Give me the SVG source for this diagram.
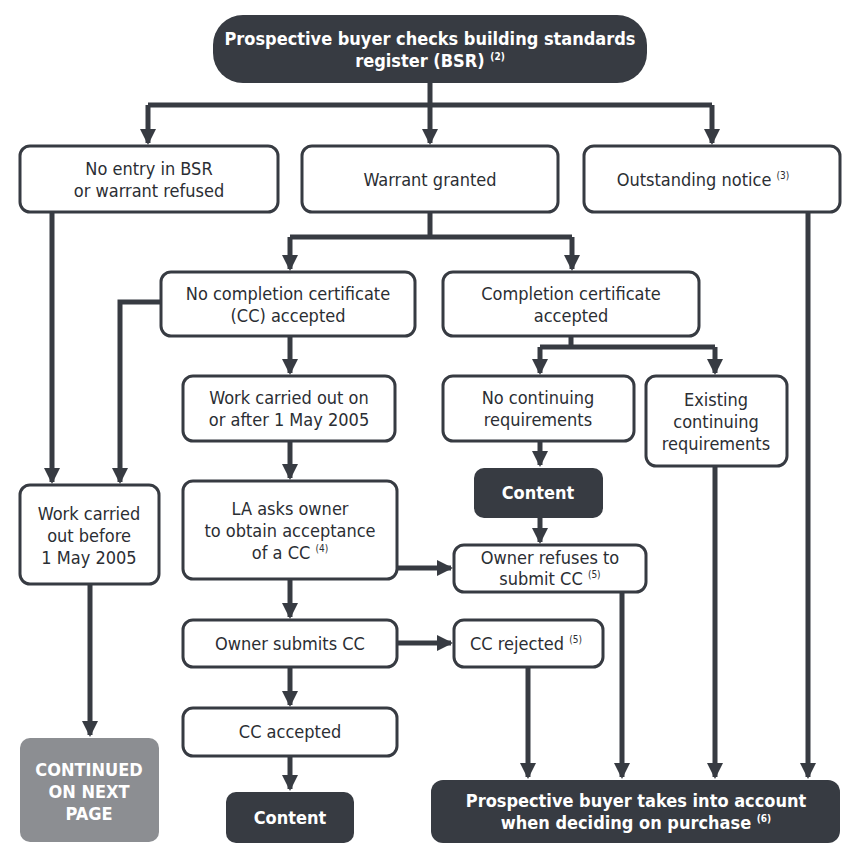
<svg xmlns="http://www.w3.org/2000/svg" width="862" height="858" viewBox="0 0 862 858">
<style>
.b{fill:#fff;stroke:#373b42;stroke-width:3}
.d{fill:#373b42}
.g{fill:#8c8e92}
text{font-family:"DejaVu Sans Condensed","DejaVu Sans",sans-serif;font-size:18px;fill:#2b2e33;text-anchor:middle}
.w{fill:#fff;font-weight:bold}
.s{font-size:10px;font-weight:bold}
.c{fill:none;stroke:#373b42;stroke-width:5}
</style>
<defs><marker id="a" markerUnits="userSpaceOnUse" markerWidth="18" markerHeight="18" refX="14" refY="8" orient="auto"><path d="M0,0L16,8L0,16Z" fill="#373b42"/></marker></defs>
<rect width="862" height="858" fill="#fff"/>
<g id="connectors">
<path class="c" d="M430,83V105M148,105H712"/>
<path class="c" marker-end="url(#a)" d="M148,105V143"/>
<path class="c" marker-end="url(#a)" d="M430,105V143"/>
<path class="c" marker-end="url(#a)" d="M712,105V143"/>
<path class="c" d="M430,212V237M290,237H572"/>
<path class="c" marker-end="url(#a)" d="M290,237V269"/>
<path class="c" marker-end="url(#a)" d="M572,237V269"/>
<path class="c" d="M571,336V347M540,347H715"/>
<path class="c" marker-end="url(#a)" d="M540,347V373"/>
<path class="c" marker-end="url(#a)" d="M715,347V373"/>
<path class="c" marker-end="url(#a)" d="M52,212V482"/>
<path class="c" marker-end="url(#a)" d="M161,302H120V482"/>
<path class="c" marker-end="url(#a)" d="M290,336V373"/>
<path class="c" marker-end="url(#a)" d="M290,441V478"/>
<path class="c" marker-end="url(#a)" d="M290,579V617"/>
<path class="c" marker-end="url(#a)" d="M290,667V705"/>
<path class="c" marker-end="url(#a)" d="M290,756V789"/>
<path class="c" marker-end="url(#a)" d="M540,441V465"/>
<path class="c" marker-end="url(#a)" d="M540,518V542"/>
<path class="c" marker-end="url(#a)" d="M397,568H451"/>
<path class="c" marker-end="url(#a)" d="M397,643H451"/>
<path class="c" marker-end="url(#a)" d="M90,584V735"/>
<path class="c" marker-end="url(#a)" d="M528,667V777"/>
<path class="c" marker-end="url(#a)" d="M622,592V777"/>
<path class="c" marker-end="url(#a)" d="M715,466V777"/>
<path class="c" marker-end="url(#a)" d="M808,212V777"/>
</g>
<g id="top"><rect class="d" x="213" y="15" width="434" height="68" rx="30"/><text class="w" x="430" y="45">Prospective buyer checks building standards</text><text class="w" x="430" y="67">register (BSR) <tspan class="s" dy="-7">(2)</tspan></text></g>
<g id="noentry"><rect class="b" x="20" y="146" width="258" height="66" rx="10"/><text x="149" y="175">No entry in BSR</text><text x="149" y="197">or warrant refused</text></g>
<g id="warrant"><rect class="b" x="302" y="146" width="256" height="66" rx="10"/><text x="430" y="186">Warrant granted</text></g>
<g id="outstanding"><rect class="b" x="584" y="146" width="256" height="66" rx="10"/><text x="703" y="186">Outstanding notice <tspan style="font-size:10px" dy="-7">(3)</tspan></text></g>
<g id="nocc"><rect class="b" x="161" y="272" width="254" height="64" rx="10"/><text x="288" y="300">No completion certificate</text><text x="288" y="322">(CC) accepted</text></g>
<g id="cc"><rect class="b" x="443" y="272" width="256" height="64" rx="10"/><text x="571" y="300">Completion certificate</text><text x="571" y="322">accepted</text></g>
<g id="after"><rect class="b" x="183" y="376" width="212" height="65" rx="10"/><text x="289" y="404">Work carried out on</text><text x="289" y="426">or after 1 May 2005</text></g>
<g id="nocont"><rect class="b" x="443" y="376" width="191" height="65" rx="10"/><text x="538" y="404">No continuing</text><text x="538" y="426">requirements</text></g>
<g id="exist"><rect class="b" x="646" y="376" width="141" height="90" rx="10"/><text x="716" y="406">Existing</text><text x="716" y="428">continuing</text><text x="716" y="450">requirements</text></g>
<g id="before"><rect class="b" x="20" y="485" width="139" height="99" rx="10"/><text x="89" y="520">Work carried</text><text x="89" y="542">out before</text><text x="89" y="564">1 May 2005</text></g>
<g id="la"><rect class="b" x="183" y="481" width="214" height="98" rx="10"/><text x="290" y="515">LA asks owner</text><text x="290" y="537">to obtain acceptance</text><text x="290" y="559">of a CC <tspan style="font-size:10px" dy="-7">(4)</tspan></text></g>
<g id="content1"><rect class="d" x="474" y="468" width="129" height="50" rx="10"/><text class="w" x="538" y="499">Content</text></g>
<g id="refuses"><rect class="b" x="454" y="545" width="192" height="47" rx="10"/><text x="550" y="564">Owner refuses to</text><text x="550" y="585">submit CC <tspan style="font-size:10px" dy="-7">(5)</tspan></text></g>
<g id="submits"><rect class="b" x="183" y="620" width="214" height="47" rx="10"/><text x="290" y="650">Owner submits CC</text></g>
<g id="rejected"><rect class="b" x="454" y="620" width="149" height="47" rx="10"/><text x="526" y="650">CC rejected <tspan style="font-size:10px" dy="-7">(5)</tspan></text></g>
<g id="ccacc"><rect class="b" x="183" y="708" width="214" height="48" rx="10"/><text x="290" y="738">CC accepted</text></g>
<g id="content2"><rect class="d" x="226" y="792" width="128" height="51" rx="10"/><text class="w" x="290" y="824">Content</text></g>
<g id="continued"><rect class="g" x="20" y="738" width="139" height="104" rx="10"/><text class="w" x="89" y="776">CONTINUED</text><text class="w" x="89" y="798">ON NEXT</text><text class="w" x="89" y="820">PAGE</text></g>
<g id="final"><rect class="d" x="431" y="780" width="409" height="63" rx="12"/><text class="w" x="636" y="807">Prospective buyer takes into account</text><text class="w" x="636" y="829">when deciding on purchase <tspan class="s" dy="-7">(6)</tspan></text></g>
</svg>
